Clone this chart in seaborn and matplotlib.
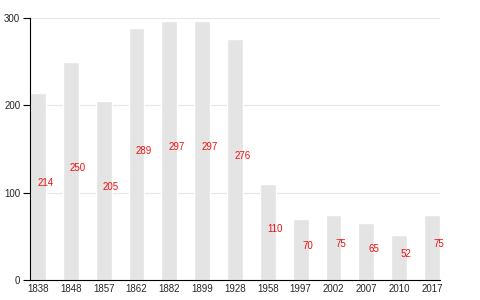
import matplotlib
matplotlib.use("Agg")
import matplotlib.pyplot as plt
import seaborn as sns
import pandas as pd

years = ["1838", "1848", "1857", "1862", "1882", "1899", "1928", "1958", "1997", "2002", "2007", "2010", "2017"]
population = [214, 250, 205, 289, 297, 297, 276, 110, 70, 75, 65, 52, 75]
yticks = [0, 100, 200, 300]

sns.set_style("white")
plt.rcParams['font.family'] = ['Liberation Sans', 'DejaVu Sans']

df = pd.DataFrame({"year": years, "pop": population})

fig = plt.figure(figsize=(4.8, 3.0), dpi=100)
ax = fig.add_axes([30/480, 1-280/300, 410/480, 262/300])

sns.barplot(data=df, x="year", y="pop", color="#e4e4e4", saturation=1, width=0.48, ax=ax)

for i, v in enumerate(population):
    ax.text(i + 0.22, v / 2 + 3.5, str(v), color="#ee1111", fontsize=7, ha="center", va="center")

ax.set_xlim(-0.245, len(years) - 1 + 0.245)
ax.set_ylim(0, 300)
ax.set_yticks(yticks)
ax.set_yticklabels([str(t) for t in yticks], fontsize=7)
ax.tick_params(axis="x", length=0, labelsize=7, pad=3)
ax.tick_params(axis="y", length=5, width=0.8, color="black", pad=2, direction="out", left=True)
ax.yaxis.grid(True, color="#e6e6e6", linewidth=0.8)
ax.set_axisbelow(True)
ax.set_xlabel("")
ax.set_ylabel("")
for s in ["top", "right"]:
    ax.spines[s].set_visible(False)
for s in ["left", "bottom"]:
    ax.spines[s].set_color("black")
    ax.spines[s].set_linewidth(0.8)

fig.savefig("out.png", dpi=100)
